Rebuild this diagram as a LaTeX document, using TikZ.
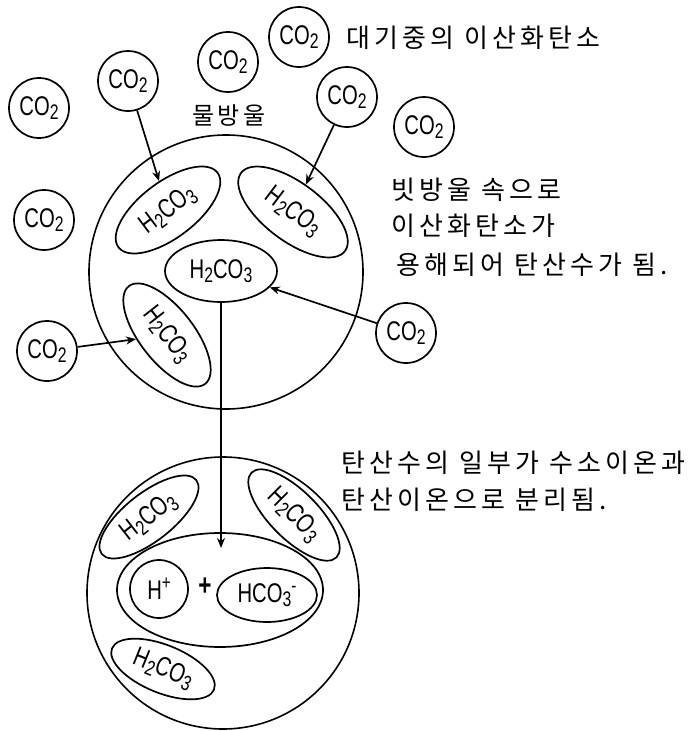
\documentclass[tikz,border=0pt]{standalone}
\usepackage{fontspec}
\usepackage{graphicx}
\usetikzlibrary{shapes.geometric,arrows.meta}
\newfontfamily\kr[LetterSpace=16]{Noto Sans CJK KR}
\newfontfamily\chem[FakeStretch=0.75]{Liberation Sans}
\newcommand\chsub[1]{\raisebox{-0.3ex}{\scalebox{0.78}{#1}}}
\newcommand\chsup[1]{\raisebox{0.7ex}{\scalebox{0.75}{#1}}}
\begin{document}
\begin{tikzpicture}[x=1pt,y=-1pt,
 every node/.style={inner sep=0pt},
 mol/.style={circle, draw, line width=1.7pt, minimum size=60pt, font=\chem\fontsize{27}{28}\selectfont},
 drop/.style={circle, draw, line width=1.6pt},
 blob/.style={ellipse, draw, line width=1.7pt, font=\chem\fontsize{27}{28}\selectfont},
 lbl/.style={font=\kr\fontsize{26}{28}\selectfont, anchor=west},
 arr/.style={line width=1.7pt, -{Stealth[length=10pt,width=8pt]}}]
\useasboundingbox (0,0) rectangle (698,731);

% droplets
\node[drop, minimum size=274pt] (top) at (226,272) {};
\node[drop, minimum size=272pt] (bot) at (223,593) {};

% CO2 molecules in the air
\node[mol] (c1) at (39,108) {CO\chsub{2}};
\node[mol] (c2) at (128,81) {CO\chsub{2}};
\node[mol] (c3) at (228,62) {CO\chsub{2}};
\node[mol] (c4) at (299,37) {CO\chsub{2}};
\node[mol] (c5) at (347,97) {CO\chsub{2}};
\node[mol] (c6) at (424,127) {CO\chsub{2}};
\node[mol] (c7) at (44,220) {CO\chsub{2}};
\node[mol] (c8) at (47,351) {CO\chsub{2}};
\node[mol] (c9) at (406,333) {CO\chsub{2}};

% carbonic acid in upper droplet
\node[blob, rotate=37, minimum width=124pt, minimum height=56pt] (e1) at (168,210) {H\chsub{2}CO\chsub{3}};
\node[blob, rotate=-37, minimum width=130pt, minimum height=58pt] (e2) at (293,212) {H\chsub{2}CO\chsub{3}};
\node[blob, minimum width=112pt, minimum height=62pt] (e3) at (221,271) {H\chsub{2}CO\chsub{3}};
\node[blob, rotate=-52, minimum width=124pt, minimum height=54pt] (e4) at (167,335) {H\chsub{2}CO\chsub{3}};

% lower droplet
\node[blob, rotate=38, minimum width=120pt, minimum height=48pt] (b1) at (149,517) {H\chsub{2}CO\chsub{3}};
\node[blob, rotate=-45, minimum width=120pt, minimum height=48pt] (b2) at (294,515) {H\chsub{2}CO\chsub{3}};
\node[blob, rotate=-22, minimum width=110pt, minimum height=48pt] (b3) at (163,669) {H\chsub{2}CO\chsub{3}};
\node[blob, minimum width=206pt, minimum height=114pt] (cont) at (220,590) {};
\node[mol, minimum size=58pt] (hp) at (159,589) {H\chsup{+}};
\node[font=\chem\bfseries\fontsize{30}{30}\selectfont] (plus) at (205,587) {+};
\node[blob, minimum width=100pt, minimum height=54pt] (hco) at (267,595) {HCO\chsub{3}\chsup{-}};

% labels
\node[font=\kr\fontsize{24}{26}\selectfont] (lw) at (229,115) {물방울};
\node[lbl] (t1) at (346,38) {대기중의 이산화탄소};
\node[lbl] (t2) at (391,190) {빗방울 속으로};
\node[lbl] (t3) at (391,226) {이산화탄소가};
\node[lbl] (t4) at (396,265) {용해되어 탄산수가 됨.};
\node[lbl] (t5) at (341,463) {탄산수의 일부가 수소이온과};
\node[lbl] (t6) at (341,500) {탄산이온으로 분리됨.};

% arrows
\draw[arr] (c2) -- (e1);
\draw[arr] (c5) -- (e2);
\draw[arr] (c8) -- (e4);
\draw[arr] (c9) -- (e3);
\coordinate (tip) at (221,548);
\draw[arr] (e3.south) -- (tip);
\end{tikzpicture}
\end{document}
